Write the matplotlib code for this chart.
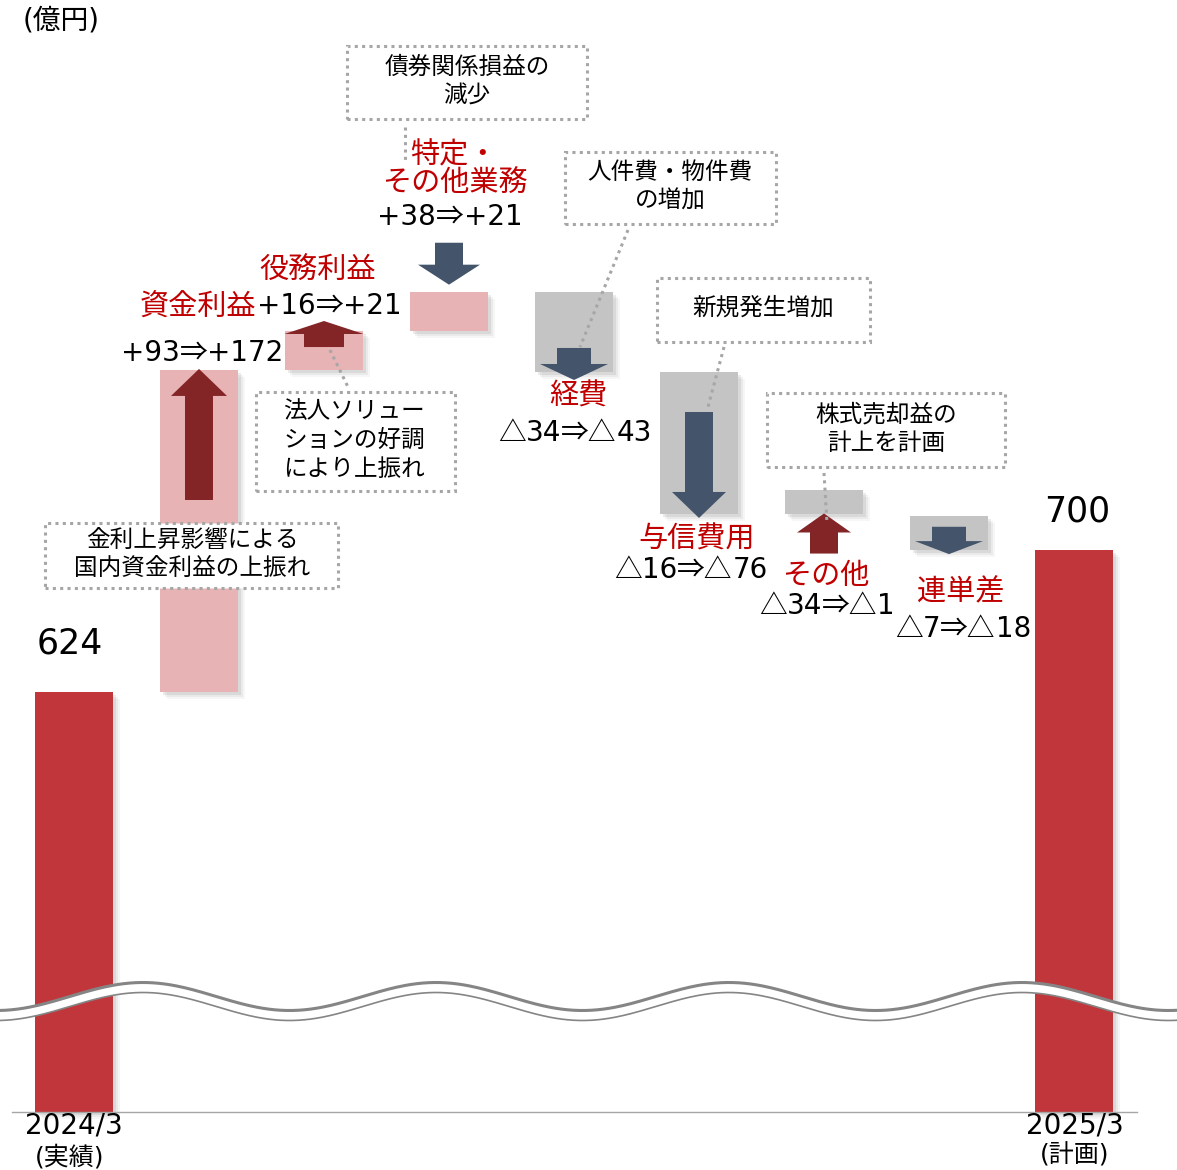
import matplotlib
matplotlib.use("Agg")
import matplotlib.pyplot as plt
from matplotlib.patches import Rectangle, Polygon
from matplotlib.offsetbox import TextArea, HPacker, AnnotationBbox
import numpy as np

plt.rcParams['font.family'] = ['DejaVu Sans', 'Noto Sans CJK JP']

# --- data (億円) ---
steps = ["資金利益", "役務利益", "特定・\nその他業務", "経費", "与信費用", "その他", "連単差"]
step_text = ["+93⇒+172", "+16⇒+21", "+38⇒+21", "△34⇒△43", "△16⇒△76", "△34⇒△1", "△7⇒△18"]
plan_delta = [172, 21, 21, -43, -76, -1, -18]
start_label = ["2024/3", "(実績)"]
end_label = ["2025/3", "(計画)"]
start_value = 624
end_value = 700
axis_base = 400
# box extent for each step, as drawn
box_low = [624, 796, 817, 795, 719, 719, 700]
box_high = [796, 817, 838, 838, 795, 732, 718]
# arrow tail / tip for each step
arrow_tail = [726.7, 808.4, 864.1, 807.9, 773.7, 698.1, 712.4]
arrow_tip = [796.7, 822.3, 841.7, 790.8, 717.1, 719.5, 697.8]

# --- styles ---
W, H = 1177, 1170
UX = 1 / 125.0      # index units per pixel
UY = 1 / 1.8724     # value units per pixel
bar_w = 78 * UX
shaft_px = [28, 40, 28, 34, 28, 28, 34]
head_px = [56, 79, 62, 68, 54, 54, 68]
headlen_px = [27, 13, 20, 16, 26, 19, 13]
RED = '#C0363B'
PINK = '#E8B3B4'
GRAY = '#C4C4C4'
NAVY = '#44546A'
MAROON = '#832427'
LABEL_RED = '#C00000'
DOT = '#A6A6A6'

fig = plt.figure(figsize=(W / 100, H / 100), dpi=100)
ax = fig.add_axes([0, 0, 1, 1])
ax.set_axis_off()


def shadow(x, lo, hi):
    for d, a in [(7, 0.05), (5, 0.08), (3, 0.12)]:
        ax.add_patch(Rectangle((x - bar_w / 2 + d * UX, lo - d * UY), bar_w, hi - lo,
                               color='#606060', alpha=a, lw=0, zorder=2))


def arrow(xc, tail, tip, shaft, head, hl, color):
    d = np.sign(tip - tail)
    b = tip - d * hl
    pts = [(xc - shaft / 2, tail), (xc - shaft / 2, b), (xc - head / 2, b), (xc, tip),
           (xc + head / 2, b), (xc + shaft / 2, b), (xc + shaft / 2, tail)]
    ax.add_patch(Polygon(pts, closed=True, color=color, lw=0, zorder=4))


def px(x, y):
    return x / W, 1 - y / H


def txt(x, y, s, size, color='black', ha='center', **kw):
    fig.text(*px(x, y), s, fontsize=size, color=color, ha=ha, va='center', **kw)


def num(x, y, s, size=20, ha='center'):
    # digits in DejaVu, △ and ⇒ full width from the CJK font
    runs = []
    for ch in s:
        wide = ch in "△⇒"
        if runs and runs[-1][0] == wide:
            runs[-1][1] += ch
        else:
            runs.append([wide, ch])
    kids = [TextArea(t, textprops=dict(fontsize=size, color='black',
                                       family=['Noto Sans CJK JP'] if w else ['DejaVu Sans']))
            for w, t in runs]
    pack = HPacker(children=kids, pad=0, sep=0, align='baseline')
    bx = {'center': 0.5, 'left': 0.0, 'right': 1.0}[ha]
    ab = AnnotationBbox(pack, (x, H - y), xycoords='figure pixels', frameon=False,
                        box_alignment=(bx, 0.5), pad=0, zorder=8)
    ax.add_artist(ab)


def note(x0, y0, x1, y1, s, tx, ty, ha='center', leader=None):
    ax.add_patch(Rectangle(px(x0, y1), (x1 - x0) / W, (y1 - y0) / H, transform=fig.transFigure,
                           facecolor='white', edgecolor=DOT, lw=2.2, ls=(0, (1, 1.4)),
                           zorder=7, clip_on=False))
    txt(tx, ty, s, 17, ha=ha, linespacing=1.25, zorder=8)
    if leader is not None:
        (a, b), (c, d) = leader
        ax.plot([a / W, c / W], [1 - b / H, 1 - d / H], transform=fig.transFigure,
                color=DOT, lw=2.2, ls=(0, (1, 1.4)), zorder=7, clip_on=False)


# main bars
ax.bar([0, 8], [start_value - axis_base, end_value - axis_base], bottom=axis_base,
       width=bar_w, color=RED, zorder=3)
shadow(0, axis_base, start_value)
shadow(8, axis_base, end_value)

# step boxes and arrows
xs = np.arange(1, len(steps) + 1)
box_col = [PINK if v > 0 else GRAY for v in plan_delta]
ax.bar(xs, np.array(box_high) - np.array(box_low), bottom=box_low, width=bar_w,
       color=box_col, zorder=3)
for i, x in enumerate(xs):
    shadow(x, box_low[i], box_high[i])
    col = MAROON if arrow_tip[i] > arrow_tail[i] else NAVY
    arrow(x, arrow_tail[i], arrow_tip[i], shaft_px[i] * UX, head_px[i] * UX,
          headlen_px[i] * UY, col)

# baseline
ax.plot([-62 * UX, 8 + 63 * UX], [axis_base, axis_base], color='#A6A6A6', lw=1, zorder=3)

# wavy break
wx = np.linspace(0, W, 600)
wy = 996.5 - 14 * np.cos(2 * np.pi * (wx - 143) / 293)
band = np.column_stack([np.r_[wx, wx[::-1]], np.r_[wy, (wy + 10)[::-1]]])
ax.add_patch(Polygon([px(a, b) for a, b in band], closed=True, transform=fig.transFigure,
                     facecolor='white', lw=0, zorder=6, clip_on=False))
ax.plot(wx / W, 1 - wy / H, transform=fig.transFigure, color='#858585', lw=2.2, zorder=6)
ax.plot(wx / W, 1 - (wy + 10) / H, transform=fig.transFigure, color='#858585', lw=1.2, zorder=6)

ax.set_xlim(-74 * UX, (W - 74) * UX)
ax.set_ylim(624 - (H - 692.3) * UY, 624 + 692.3 * UY)

# texts
txt(61, 20, "(億円)", 20)
txt(70, 643, str(start_value), 25)
txt(1077, 512, str(end_value), 25)
txt(74, 1125, start_label[0], 20)
txt(70, 1157, start_label[1], 18)
txt(1075, 1125, end_label[0], 20)
txt(1075, 1155, end_label[1], 18)

num(202, 353, step_text[0])
txt(256, 308, steps[0], 21, color=LABEL_RED, ha='right')
num(257, 306, step_text[1], ha='left')
txt(318, 271, steps[1], 21, color=LABEL_RED)
txt(454, 155, "特定・", 21, color=LABEL_RED)
txt(455, 184, "その他業務", 21, color=LABEL_RED)
num(450, 217, step_text[2])
txt(578, 397, steps[3], 21, color=LABEL_RED)
num(575, 433, step_text[3])
txt(697, 540, steps[4], 21, color=LABEL_RED)
num(691, 570, step_text[4])
txt(826, 576, steps[5], 21, color=LABEL_RED)
num(827, 606, step_text[5])
txt(961, 592, steps[6], 21, color=LABEL_RED)
num(963, 629, step_text[6])

# notes
note(347, 46, 587, 119, "債券関係損益の\n減少", 467, 81, leader=((405, 127), (405, 162)))
note(565, 152, 776, 224, "人件費・物件費\nの増加", 670, 186, leader=((628, 230), (580, 347)))
note(657, 278, 870, 342, "新規発生増加", 763, 308, leader=((724, 347), (708, 407)))
note(256, 392, 455, 491, "法人ソリュー\nションの好調\nにより上振れ", 283, 440, ha='left',
     leader=((330, 350), (348, 387)))
note(45, 523, 338, 588, "金利上昇影響による\n国内資金利益の上振れ", 192, 554)
note(767, 393, 1005, 467, "株式売却益の\n計上を計画", 886, 429, leader=((824, 473), (827, 523)))

fig.savefig("out.png", dpi=100)
